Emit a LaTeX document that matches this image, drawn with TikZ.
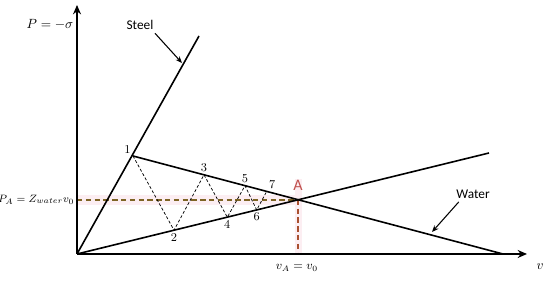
\documentclass[tikz,border=0pt]{standalone}
\usepackage{fontspec}
\newfontfamily\labelfont{Carlito}
\usetikzlibrary{calc, positioning}
\usetikzlibrary{arrows.meta}

\definecolor{guidebrown}{HTML}{7E6424}
\definecolor{guidered}{HTML}{A9502F}
\definecolor{statered}{HTML}{C0504D}
\definecolor{bandpink}{HTML}{FCEEF2}

\begin{document}
\begin{tikzpicture}[x=0.75pt,y=0.75pt,
  axis/.style={line width=1.6pt, -{Stealth[length=7pt, width=6pt]}},
  curve/.style={line width=1.2pt},
  wave/.style={dash pattern=on 2.2pt off 1.5pt, line width=0.55pt},
  guide/.style={dash pattern=on 4pt off 2.6pt, line width=1.1pt},
  pointlabel/.style={font=\small, inner sep=1pt},
  tag/.style={font=\labelfont, inner sep=1pt},
  pointer/.style={line width=0.8pt, -{Stealth[length=5pt, width=4pt]}}]
\useasboundingbox (0,0) rectangle (550,281);

% Key points
\coordinate (O) at (77,27);
\coordinate (ytop) at (77,276);
\coordinate (xtip) at (527,27);
\coordinate (steelend) at (199,245);
\coordinate (waterend) at (489,128);
\coordinate (reflend) at (503,27);
\coordinate (A) at (298.2,81.2);
\coordinate (Ay) at (77,81.2);
\coordinate (Ax) at (298.2,27);

% Wave states
\coordinate (p1) at (133,125);
\coordinate (p2) at (174,50.8);
\coordinate (p3) at (204,106.2);
\coordinate (p4) at (227.3,63.8);
\coordinate (p5) at (245,95.3);
\coordinate (p6) at (256.7,71.0);
\coordinate (p7) at (266.7,89.6);

% Highlight bands
\fill[bandpink] (77,76) rectangle (298.2,86);
\fill[bandpink] (295,27) rectangle (301.5,102);

% Guides to A
\draw[guide, guidebrown] (Ay) -- (A);
\draw[guide, guidered] (A) -- (Ax);

% Axes
\draw[axis] (O) -- (ytop);
\draw[axis] (O) -- (xtip);

% Hugoniot lines
\draw[curve] (O) -- (steelend);
\draw[curve] (O) -- (waterend);
\draw[curve] (p1) -- (reflend);

% Reverberation
\draw[wave] (p1) -- (p2) -- (p3) -- (p4) -- (p5) -- (p6) -- (p7);
\foreach \i/\pos in {1/above left, 2/below, 3/above, 4/below, 5/above, 6/below, 7/above right}{
  \node[pointlabel, \pos=1pt of p\i] (n\i) {\i};
}

% Labels
\node[statered, font=\labelfont\large, inner sep=1pt] (lA) at (298,96) {A};
\node (lP) at (50,256) {$P=-\sigma$};
\node (lv) at (540,14) {$v$};
\node[font=\small] (lvA) at (297,13) {$v_A=v_0$};
\node[anchor=east, font=\footnotesize, inner sep=0pt] (lPA) at (74.5,81.2) {$P_A=Z_{water}v_0$};

\node[tag] (steel) at (140,256) {Steel};
\node[tag] (water) at (473,87) {Water};
\coordinate (steelhit) at (182,218);
\coordinate (waterhit) at (432,49);
\draw[pointer] (steel.south east) ++(0,-2) coordinate (steelfrom) -- (steelhit);
\draw[pointer] (water.south west) ++(4,-2) coordinate (waterfrom) -- (waterhit);
\end{tikzpicture}
\end{document}
